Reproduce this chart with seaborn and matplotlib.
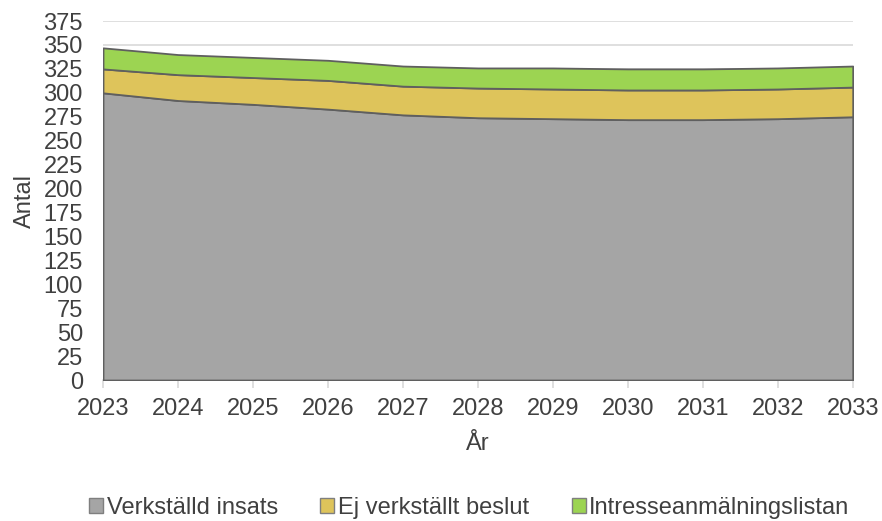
import matplotlib
matplotlib.use("Agg")
import matplotlib.pyplot as plt
from matplotlib.patches import Patch
import seaborn as sns

# Data
years = [2023, 2024, 2025, 2026, 2027, 2028, 2029, 2030, 2031, 2032, 2033]
verkstalld = [300, 292, 288, 283, 277, 274, 273, 272, 272, 273, 275]
ej_verkstallt = [25, 27, 28, 30, 30, 31, 31, 31, 31, 31, 31]
intresse = [22, 21, 21, 21, 21, 21, 22, 22, 22, 22, 22]

series_names = ["Verkställd insats", "Ej verkställt beslut", "Intresseanmälningslistan"]
colors = ["#A5A5A5", "#DEC45B", "#9CD452"]
yticks = list(range(0, 376, 25))

sns.set_style("white")
plt.rcParams["font.family"] = ["Liberation Sans", "DejaVu Sans"]
fs = 17
txt = "#404040"

fig = plt.figure(figsize=(8.82, 5.21), dpi=100)
ax = fig.add_axes([0.1168, 0.2706, 0.850, 0.689])

ax.stackplot(years, verkstalld, ej_verkstallt, intresse,
             colors=colors, edgecolor="#5F5F5F", linewidth=1.3, zorder=3)

ax.set_xlim(years[0], years[-1])
ax.set_ylim(0, 375)
ax.set_yticks(yticks)
ax.set_xticks(years)
ax.yaxis.grid(True, color="#D9D9D9", linewidth=1.2, zorder=0)
ax.xaxis.grid(False)

sns.despine(ax=ax, left=True, top=True, right=True)
ax.spines["bottom"].set_color("#D9D9D9")
ax.spines["bottom"].set_linewidth(1.2)

ax.tick_params(axis="x", which="major", bottom=True, direction="out",
               length=6, width=1.2, color="#D9D9D9", labelsize=fs,
               labelcolor=txt, pad=7)
ax.tick_params(axis="y", left=False, labelsize=fs, labelcolor=txt, pad=11)

ax.set_xlabel("År", fontsize=fs, color=txt, labelpad=9)
ax.set_ylabel("Antal", fontsize=fs, color=txt, labelpad=5)

handles = [Patch(facecolor=c, edgecolor="#7F7F7F", linewidth=1.0) for c in colors]
fig.legend(handles, series_names, loc="lower center", bbox_to_anchor=(0.532, -0.036),
           ncol=3, frameon=False, fontsize=fs, handlelength=0.6, handleheight=0.6,
           handletextpad=0.15, columnspacing=1.8, labelcolor=txt)

fig.savefig("out.png", dpi=100)
